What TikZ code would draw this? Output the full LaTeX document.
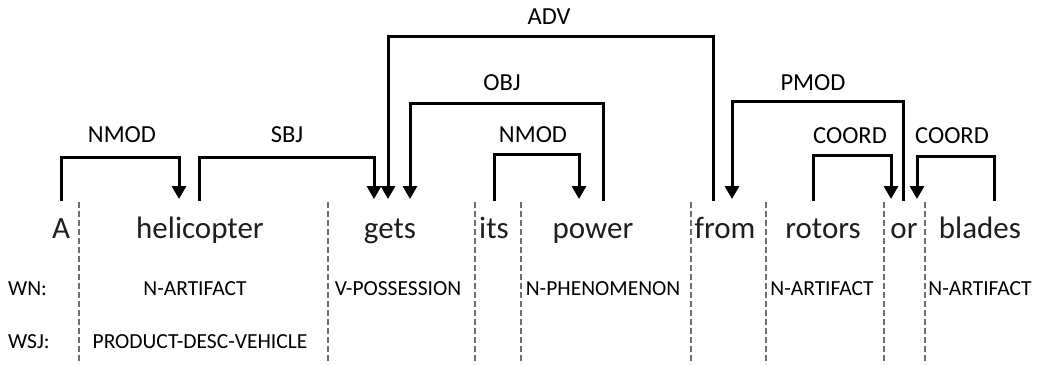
\documentclass[tikz,border=0pt]{standalone}
\usepackage{fontspec}
\setmainfont{Carlito}
\usetikzlibrary{arrows.meta}
\definecolor{txt}{HTML}{1E1E1E}
\definecolor{sep}{HTML}{6E6E6E}
\begin{document}
\begin{tikzpicture}[x=1pt,y=-1pt,
  word/.style={anchor=base,inner sep=0pt,text=txt,font=\fontsize{31}{31}\selectfont},
  lab/.style={anchor=base,inner sep=0pt,text=black,font=\fontsize{24.5}{24.5}\selectfont},
  tag/.style={anchor=base,inner sep=0pt,text=black,font=\fontsize{21.5}{21.5}\selectfont},
  arc/.style={line width=3pt,-{Triangle[width=14pt,length=13pt]},line join=miter},
  sepline/.style={sep,line width=2.6pt,dash pattern=on 5.5pt off 3.5pt}]
\useasboundingbox (0,0) rectangle (1041,364);
% words
\node[word] (w1) at (61,238) {A};
\node[word] (w2) at (200,238) {helicopter};
\node[word] (w3) at (390,238) {gets};
\node[word] (w4) at (494,238) {its};
\node[word] (w5) at (593,238) {power};
\node[word] (w6) at (725,238) {from};
\node[word] (w7) at (823,238) {rotors};
\node[word] (w8) at (904,238) {or};
\node[word] (w9) at (980,238) {blades};
% separators
\foreach \x/\n in {79/s1,328/s2,475/s3,521/s4,691/s5,766/s6,884/s7,925/s8}{
  \coordinate (\n t) at (\x,202);
  \coordinate (\n b) at (\x,364);
  \draw[sepline] (\n t) -- (\n b);
}
% row tags
\node[tag,anchor=base west] (wn) at (8,295) {WN:};
\node[tag,anchor=base west] (wsj) at (8,348) {WSJ:};
\node[tag] (t2) at (195,295) {N-ARTIFACT};
\node[tag] (t3) at (398,295) {V-POSSESSION};
\node[tag] (t5) at (603,295) {N-PHENOMENON};
\node[tag] (t7) at (822,295) {N-ARTIFACT};
\node[tag] (t9) at (980,295) {N-ARTIFACT};
\node[tag] (t2b) at (200,348) {PRODUCT-DESC-VEHICLE};
% arc end points
\coordinate (a1s) at (61,201);   \coordinate (a1e) at (179,199);
\coordinate (a2s) at (199,201);  \coordinate (a2e) at (374,199);
\coordinate (a3s) at (713,201);  \coordinate (a3e) at (388,199);
\coordinate (a4s) at (603,201);  \coordinate (a4e) at (410,199);
\coordinate (a5s) at (494,201);  \coordinate (a5e) at (579,199);
\coordinate (a6s) at (903,201);  \coordinate (a6e) at (732,199);
\coordinate (a7s) at (813,201);  \coordinate (a7e) at (891,199);
\coordinate (a8s) at (994,201);  \coordinate (a8e) at (917,199);
% arcs
\draw[arc] (a1s) -- (61,157) -- (179,157) -- (a1e);
\draw[arc] (a2s) -- (199,157) -- (374,157) -- (a2e);
\draw[arc] (a3s) -- (713,36) -- (388,36) -- (a3e);
\draw[arc] (a4s) -- (603,103) -- (410,103) -- (a4e);
\draw[arc] (a5s) -- (494,154) -- (579,154) -- (a5e);
\draw[arc] (a6s) -- (903,101) -- (732,101) -- (a6e);
\draw[arc] (a7s) -- (813,155) -- (891,155) -- (a7e);
\draw[arc] (a8s) -- (994,156) -- (917,156) -- (a8e);
% arc labels
\node[lab] (l1) at (122,142) {NMOD};
\node[lab] (l2) at (287,142) {SBJ};
\node[lab] (l3) at (549,24) {ADV};
\node[lab] (l4) at (502,90) {OBJ};
\node[lab] (l5) at (533,142) {NMOD};
\node[lab] (l6) at (813,90) {PMOD};
\node[lab] (l7) at (850,143) {COORD};
\node[lab] (l8) at (952,143) {COORD};
\end{tikzpicture}
\end{document}
